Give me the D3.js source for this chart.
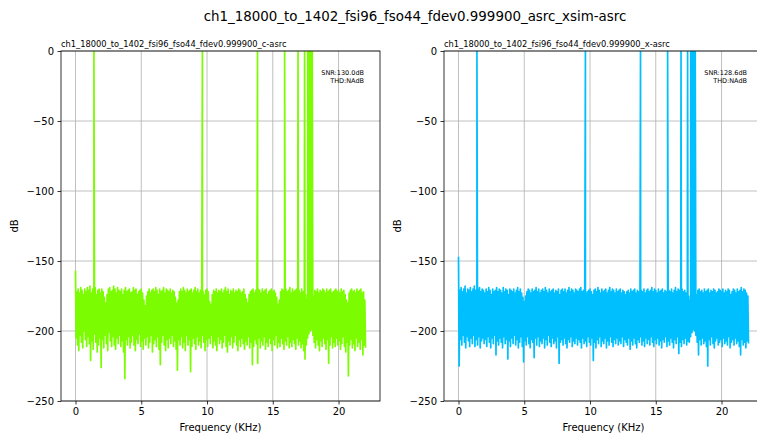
<!DOCTYPE html>
<html><head><meta charset="utf-8">
<script src="https://cdn.jsdelivr.net/npm/d3@7"></script>
<style>body{margin:0;background:#fff}svg{display:block;font-family:"DejaVu Sans",sans-serif}</style>
</head><body><div id="chart"></div>
<script>
const figTitle = "ch1_18000_to_1402_fsi96_fso44_fdev0.999900_asrc_xsim-asrc";
const panelTitles = ["ch1_18000_to_1402_fsi96_fso44_fdev0.999900_c-asrc", "ch1_18000_to_1402_fsi96_fso44_fdev0.999900_x-asrc"];
const panelNotes = [["SNR:130.0dB", "THD:NAdB"], ["SNR:128.6dB", "THD:NAdB"]];
const panelColors = ["#7CFC00", "#00BFFF"];
const xTicks = [0, 5, 10, 15, 20];
const yTicks = [0, -50, -100, -150, -200, -250];
const fMax = 22.05;
const binStep = 0.1; // kHz between floor samples
// tones (kHz) peaking at 0 dB
const toneFreqs = [1.402, 9.65, 13.84, 15.9, 16.92, 17.42, 17.66, 17.78, 17.9, 18.0];
const toneLevel = 0;

const leftHi = [-157,-172,-170,-173,-169,-171,-174,-170,-172,-169,
-171,-168,-173,-170,-172,-169,-174,-171,-170,-173,
-170,-172,-176,-180,-174,-170,-169,-172,-171,-168,
-170,-173,-169,-171,-172,-170,-174,-171,-169,-172,
-171,-170,-173,-172,-169,-171,-170,-174,-172,-171,
-170,-173,-178,-182,-175,-172,-170,-173,-171,-170,
-172,-169,-171,-174,-170,-172,-171,-169,-173,-170,
-171,-172,-170,-173,-171,-172,-176,-180,-178,-172,
-170,-172,-169,-171,-173,-170,-172,-171,-170,-173,
-171,-169,-172,-170,-173,-171,-170,-172,-174,-171,
-170,-172,-179,-181,-174,-171,-172,-170,-173,-171,
-172,-170,-173,-171,-169,-172,-170,-174,-171,-172,
-170,-173,-171,-172,-170,-171,-173,-172,-170,-174,
-177,-180,-174,-172,-171,-170,-173,-171,-172,-170,
-171,-173,-170,-172,-171,-170,-174,-172,-171,-170,
-172,-171,-173,-176,-181,-178,-172,-170,-171,-173,
-170,-172,-171,-169,-173,-170,-172,-171,-170,-172,
-171,-173,-170,-172,-171,-174,-177,-182,-186,-188,
-184,-175,-171,-172,-170,-173,-171,-172,-170,-171,
-173,-170,-172,-171,-170,-173,-172,-171,-170,-172,
-171,-173,-170,-172,-171,-174,-178,-180,-173,-171,
-170,-172,-171,-173,-170,-172,-171,-170,-173,-172,-178];
const leftLo = [-205,-210,-214,-203,-208,-212,-200,-206,-211,-204,
-209,-221,-207,-213,-202,-208,-215,-210,-205,-226,
-206,-212,-203,-209,-214,-201,-207,-211,-204,-210,
-213,-205,-209,-203,-211,-207,-215,-234,-206,-210,
-204,-212,-208,-203,-210,-214,-206,-209,-202,-211,
-207,-213,-205,-210,-204,-212,-208,-203,-215,-209,
-206,-211,-204,-213,-224,-208,-203,-210,-214,-206,
-212,-205,-209,-203,-211,-207,-213,-228,-206,-210,
-204,-212,-208,-214,-203,-210,-206,-229,-211,-205,
-209,-213,-204,-210,-207,-212,-203,-208,-214,-206,
-211,-205,-209,-203,-212,-207,-210,-214,-204,-209,
-206,-212,-208,-203,-211,-215,-207,-210,-204,-212,
-208,-203,-210,-214,-206,-211,-205,-209,-213,-207,
-210,-204,-212,-208,-224,-211,-206,-209,-223,-205,
-212,-207,-210,-204,-213,-208,-211,-205,-209,-214,
-206,-210,-203,-212,-208,-211,-205,-209,-213,-207,
-210,-204,-212,-208,-211,-206,-209,-213,-205,-210,
-207,-212,-209,-214,-220,-210,-205,-202,-200,-199,
-203,-208,-212,-206,-210,-214,-207,-211,-205,-209,
-213,-206,-223,-210,-204,-212,-208,-211,-205,-210,
-207,-213,-209,-204,-211,-215,-208,-232,-210,-206,
-212,-209,-214,-205,-211,-208,-213,-206,-217,-210,-212];
const rightHi = [-147,-171,-169,-172,-170,-168,-173,-170,-171,-169,
-172,-170,-168,-171,-173,-170,-169,-172,-170,-171,
-173,-170,-172,-169,-171,-174,-170,-172,-171,-169,
-172,-170,-171,-173,-169,-172,-170,-171,-174,-170,
-171,-172,-170,-173,-171,-169,-172,-170,-173,-176,
-179,-175,-172,-170,-171,-173,-170,-172,-171,-169,
-172,-170,-173,-171,-170,-172,-169,-171,-173,-170,
-172,-171,-170,-173,-171,-172,-170,-174,-171,-170,
-172,-170,-173,-171,-169,-172,-170,-171,-173,-170,
-171,-172,-170,-169,-172,-171,-170,-173,-172,-171,
-170,-172,-174,-171,-170,-172,-169,-171,-173,-170,
-172,-171,-170,-173,-171,-169,-172,-170,-171,-173,
-170,-172,-171,-170,-173,-171,-172,-174,-172,-171,
-173,-170,-172,-171,-170,-173,-171,-172,-170,-171,
-172,-170,-173,-171,-170,-172,-171,-169,-172,-170,
-171,-173,-170,-172,-171,-170,-173,-171,-172,-170,
-171,-172,-170,-173,-171,-169,-172,-170,-171,-173,
-170,-172,-171,-173,-172,-175,-178,-183,-188,-190,
-182,-174,-171,-170,-172,-171,-173,-170,-172,-171,
-170,-173,-171,-172,-170,-171,-173,-172,-170,-171,
-172,-170,-173,-171,-172,-170,-171,-174,-172,-170,
-171,-173,-170,-172,-171,-169,-172,-170,-171,-173,-175];
const rightLo = [-225,-206,-210,-203,-208,-212,-204,-207,-211,-205,
-209,-203,-211,-206,-210,-204,-212,-207,-205,-209,
-206,-211,-204,-208,-212,-205,-209,-203,-217,-207,
-210,-205,-208,-212,-204,-209,-206,-220,-207,-211,
-205,-209,-203,-210,-206,-212,-208,-204,-211,-222,
-207,-210,-204,-209,-212,-206,-208,-219,-205,-210,
-204,-211,-207,-209,-205,-212,-206,-210,-203,-208,
-211,-205,-209,-207,-212,-204,-223,-208,-206,-210,
-205,-209,-212,-206,-208,-204,-211,-207,-209,-205,
-210,-206,-208,-212,-205,-209,-207,-211,-204,-208,
-210,-205,-221,-208,-212,-206,-209,-204,-211,-207,
-209,-205,-212,-207,-210,-204,-208,-211,-206,-209,
-205,-210,-207,-209,-204,-211,-206,-208,-210,-205,
-213,-207,-210,-205,-209,-212,-206,-208,-204,-210,
-207,-211,-205,-209,-206,-210,-204,-208,-211,-206,
-209,-205,-210,-207,-212,-206,-208,-204,-211,-207,
-210,-205,-208,-212,-206,-209,-204,-216,-208,-211,
-206,-209,-205,-210,-207,-208,-204,-201,-199,-200,
-203,-208,-217,-206,-210,-205,-209,-207,-211,-225,
-206,-210,-204,-209,-212,-207,-205,-210,-208,-206,
-211,-205,-209,-207,-210,-204,-212,-208,-206,-210,
-205,-209,-207,-211,-217,-206,-210,-208,-212,-207,-209];

const W = 757, H = 437;
const svg = d3.select("#chart").append("svg").attr("width", W).attr("height", H);
svg.append("text").attr("x", 415).attr("y", 21).attr("text-anchor", "middle")
  .attr("font-size", 13.4).attr("fill", "#000").text(figTitle);

const panels = [
  {left: 61, hi: leftHi, lo: leftLo},
  {left: 444, hi: rightHi, lo: rightLo}
];
const plotTop = 51, plotBottom = 401, pw = 319;
const margin = fMax * 0.05;

function buildPoints(hi, lo) {
  const pts = [];
  hi.forEach((h, i) => {
    const f = Math.min(i * binStep, fMax);
    pts.push([f, h]);
    const f2 = Math.min(f + binStep / 2, fMax);
    pts.push([f2, lo[i]]);
  });
  toneFreqs.forEach(t => pts.push([t, toneLevel]));
  pts.sort((a, b) => a[0] - b[0]);
  return pts;
}

panels.forEach((p, k) => {
  const x = d3.scaleLinear().domain([-margin, fMax + margin]).range([p.left, p.left + pw]);
  const y = d3.scaleLinear().domain([-250, 0]).range([plotBottom, plotTop]);
  const g = svg.append("g");
  const clipId = "clip" + k;
  svg.append("clipPath").attr("id", clipId).append("rect")
    .attr("x", p.left).attr("y", plotTop).attr("width", pw).attr("height", plotBottom - plotTop);
  g.selectAll(".gx").data(xTicks).join("line")
    .attr("x1", d => x(d)).attr("x2", d => x(d)).attr("y1", plotTop).attr("y2", plotBottom)
    .attr("stroke", "#b0b0b0").attr("stroke-width", 0.8);
  g.selectAll(".gy").data(yTicks).join("line")
    .attr("x1", p.left).attr("x2", p.left + pw).attr("y1", d => y(d)).attr("y2", d => y(d))
    .attr("stroke", "#b0b0b0").attr("stroke-width", 0.8);
  const pts = buildPoints(p.hi, p.lo);
  g.append("path").attr("clip-path", `url(#${clipId})`)
    .attr("d", d3.line().x(d => x(d[0])).y(d => y(d[1]))(pts))
    .attr("fill", "none").attr("stroke", panelColors[k]).attr("stroke-width", 1.7)
    .attr("stroke-linejoin", "round");
  const fmt = d => (d < 0 ? "\u2212" + Math.abs(d) : String(d));
  const ax = g.append("g").attr("transform", `translate(0,${plotBottom})`)
    .call(d3.axisBottom(x).tickValues(xTicks).tickFormat(fmt).tickSizeInner(3.5).tickSizeOuter(0).tickPadding(3.5));
  const ay = g.append("g").attr("transform", `translate(${p.left},0)`)
    .call(d3.axisLeft(y).tickValues(yTicks).tickFormat(fmt).tickSizeInner(3.5).tickSizeOuter(0).tickPadding(3.5));
  [ax, ay].forEach(a => {
    a.selectAll("text").attr("font-size", 10).attr("font-family", "DejaVu Sans").attr("fill", "#000");
    a.selectAll("line").attr("stroke", "#000").attr("stroke-width", 0.8);
    a.select(".domain").remove();
  });
  g.append("rect").attr("x", p.left).attr("y", plotTop).attr("width", pw).attr("height", plotBottom - plotTop)
    .attr("fill", "none").attr("stroke", "#000").attr("stroke-width", 0.8);
  g.append("text").attr("x", p.left + pw / 2).attr("y", 431).attr("text-anchor", "middle")
    .attr("font-size", 10).text("Frequency (KHz)");
  g.append("text").attr("transform", `translate(${p.left - 43},${(plotTop + plotBottom) / 2}) rotate(-90)`)
    .attr("text-anchor", "middle").attr("font-size", 10).text("dB");
  g.append("text").attr("x", p.left).attr("y", 46.5).attr("font-size", 8.3).text(panelTitles[k]);
  panelNotes[k].forEach((t, j) => {
    g.append("text").attr("x", x(fMax + margin) - 16).attr("y", 75 + j * 7.5)
      .attr("text-anchor", "end").attr("font-size", 6.5).text(t);
  });
});
</script></body></html>
